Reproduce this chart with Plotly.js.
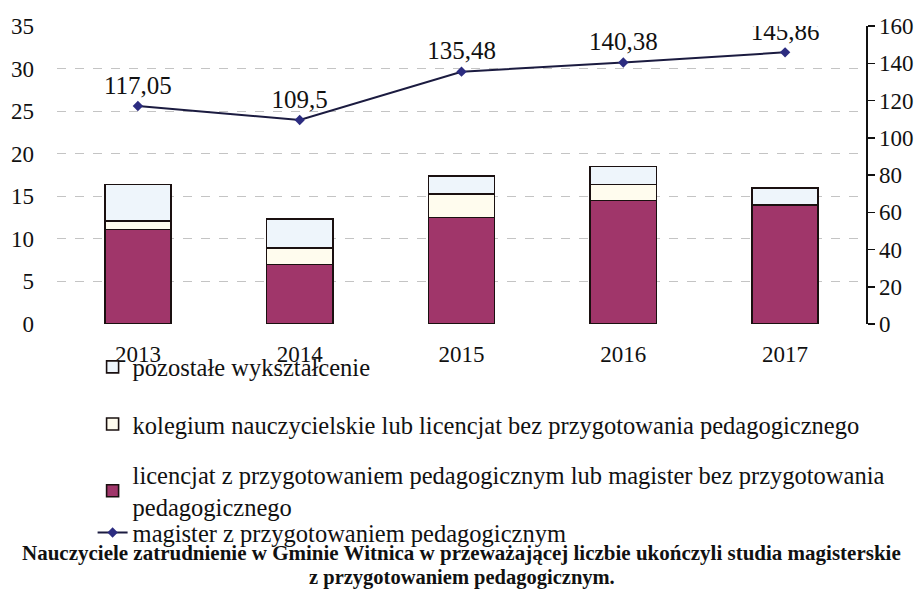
<!DOCTYPE html>
<html>
<head>
<meta charset="utf-8">
<script src="https://cdn.plot.ly/plotly-3.0.1.min.js"></script>
<style>html,body{margin:0;padding:0;background:#fff;}#chart{width:922px;height:590px;}</style>
</head>
<body>
<div id="chart"></div>
<script>
const years = ['2013', '2014', '2015', '2016', '2017'];
const licencjat = [11.1, 7.0, 12.5, 14.5, 14.0];
const kolegium = [1.0, 1.9, 2.8, 1.9, 0];
const pozostale = [4.3, 3.4, 2.1, 2.1, 2.0];
const magister = [117.05, 109.5, 135.48, 140.38, 145.86];

const names = {
  pozostale: 'pozostałe wykształcenie',
  kolegium: 'kolegium nauczycielskie lub licencjat bez przygotowania pedagogicznego',
  licencjat: 'licencjat z przygotowaniem pedagogicznym lub magister bez przygotowania<br>pedagogicznego',
  magister: 'magister z przygotowaniem pedagogicznym'
};
const captionLines = [
  'Nauczyciele zatrudnienie w Gminie Witnica w przeważającej liczbie ukończyli studia magisterskie',
  'z przygotowaniem pedagogicznym.'
];

const serif = 'Liberation Serif';
const fmt = v => String(v).replace('.', ',');

const traces = [
  {type: 'bar', x: years, y: licencjat, name: names.licencjat, legend: 'legend3',
   marker: {color: '#a0366a', line: {color: '#1a1010', width: 1.6}}},
  {type: 'bar', x: years, y: kolegium, name: names.kolegium, legend: 'legend2',
   marker: {color: '#fffcee', line: {color: '#1a1010', width: 1.6}}},
  {type: 'bar', x: years, y: pozostale, name: names.pozostale, legend: 'legend',
   marker: {color: '#eef5fb', line: {color: '#1a1010', width: 1.6}}},
  {type: 'scatter', mode: 'lines+markers+text', x: years, y: magister, yaxis: 'y2',
   name: names.magister, legend: 'legend4',
   text: magister.map(fmt), textposition: 'top center',
   textfont: {family: serif, size: 25, color: '#111'},
   line: {color: '#1b1b40', width: 2},
   marker: {symbol: 'diamond', size: 8, color: '#2c2c80'}}
];

const legFont = {family: serif, size: 24.5, color: '#111'};
const legBase = {font: legFont, bgcolor: 'rgba(0,0,0,0)', xanchor: 'left', yanchor: 'middle', itemwidth: 30};

const layout = {
  width: 922, height: 590,
  margin: {l: 57, r: 56, t: 26, b: 266},
  paper_bgcolor: '#fff', plot_bgcolor: '#fff',
  barmode: 'stack', bargap: 0.59,
  separators: ', ',
  font: {family: serif, size: 22, color: '#111'},
  showlegend: true,
  xaxis: {type: 'category', showline: false, showgrid: false, zeroline: false,
          ticks: '', ticklabelstandoff: 14, tickfont: {family: serif, size: 23, color: '#111'}},
  yaxis: {range: [0, 35], dtick: 5, showline: false, zeroline: false,
          showgrid: true, gridcolor: '#c4c4c4', griddash: 'dash', gridwidth: 1,
          ticks: '', ticklabelstandoff: 22, tickfont: {family: serif, size: 23, color: '#111'}},
  yaxis2: {overlaying: 'y', side: 'right', range: [0, 160], dtick: 20, showgrid: false,
           zeroline: false, showline: true, linecolor: '#111', linewidth: 1.5,
           ticks: 'outside', ticklen: 7, tickcolor: '#111', tickwidth: 1.5,
           tickfont: {family: serif, size: 23, color: '#111'}},
  legend: Object.assign({}, legBase, {x: 0.044, y: -0.144}),
  legend2: Object.assign({}, legBase, {x: 0.044, y: -0.336}),
  legend3: Object.assign({}, legBase, {x: 0.044, y: -0.56}),
  legend4: Object.assign({}, legBase, {x: 0.044, y: -0.70}),
  annotations: [
    {xref: 'paper', yref: 'paper', x: 0.5, y: -0.768, xanchor: 'center', yanchor: 'middle',
     text: '<b>' + captionLines[0] + '</b>', showarrow: false,
     font: {family: serif, size: 21, color: '#111'}},
    {xref: 'paper', yref: 'paper', x: 0.5, y: -0.85, xanchor: 'center', yanchor: 'middle',
     text: '<b>' + captionLines[1] + '</b>', showarrow: false,
     font: {family: serif, size: 20.5, color: '#111'}}
  ]
};

Plotly.newPlot('chart', traces, layout, {displayModeBar: false, staticPlot: true});
</script>
</body>
</html>
